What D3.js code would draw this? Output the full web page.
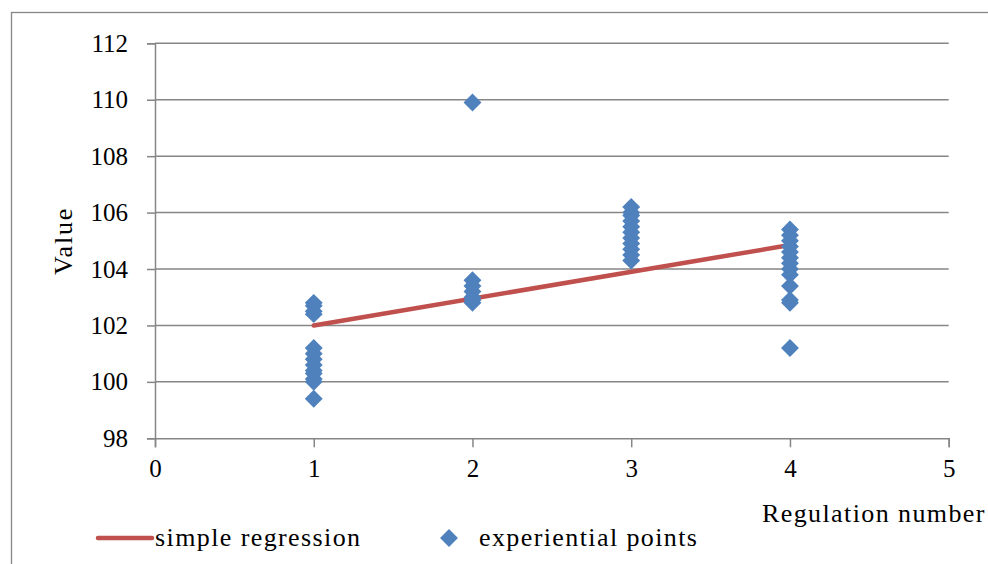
<!DOCTYPE html>
<html>
<head>
<meta charset="utf-8">
<script src="https://cdn.jsdelivr.net/npm/d3@7"></script>
<style>
  html, body { margin: 0; padding: 0; background: #fff; }
  svg { display: block; }
  text { font-family: "Liberation Serif", "Times New Roman", serif; fill: #000; }
</style>
</head>
<body>
<svg id="chart" width="988" height="564"></svg>
<script>
// Measured values per regulation number
const regulation = [1, 2, 3, 4];
const pointsReg1 = [102.8, 102.7, 102.5, 102.4, 101.2, 101.0, 100.8, 100.6, 100.4, 100.3, 100.1, 100.0, 99.4];
const pointsReg2 = [109.9, 103.6, 103.4, 103.2, 103.0, 102.9, 102.8];
const pointsReg3 = [106.2, 106.0, 105.9, 105.7, 105.5, 105.3, 105.1, 104.9, 104.7, 104.5, 104.3];
const pointsReg4 = [105.4, 105.2, 105.0, 104.8, 104.6, 104.4, 104.2, 104.0, 103.8, 103.4, 102.9, 102.8, 101.2];

// Simple regression line endpoints
const regressionX = [1, 4];
const regressionY = [102.0, 104.85];

// Axis ticks
const xTicks = [0, 1, 2, 3, 4, 5];
const yTicks = [98, 100, 102, 104, 106, 108, 110, 112];

const seriesPoints = [pointsReg1, pointsReg2, pointsReg3, pointsReg4];
const scatter = [];
seriesPoints.forEach((vals, i) => vals.forEach(v => scatter.push({ x: regulation[i], y: v })));

const svg = d3.select("#chart");
const gridColor = "#868686";
const lineColor = "#C0504D";
const pointColor = "#4F81BD";

const x = d3.scaleLinear().domain([0, 5]).range([155, 948.7]);
const y = d3.scaleLinear().domain([98, 112]).range([438.3, 43.3]);

// Outer chart frame
svg.append("rect")
  .attr("x", 11.5).attr("y", 12.5)
  .attr("width", 1000).attr("height", 600)
  .attr("fill", "none").attr("stroke", gridColor).attr("stroke-width", 1.3);

// Horizontal gridlines
svg.append("g").selectAll("line")
  .data(yTicks.filter(t => t !== 98))
  .join("line")
  .attr("x1", x(0)).attr("x2", x(5))
  .attr("y1", d => y(d)).attr("y2", d => y(d))
  .attr("stroke", gridColor).attr("stroke-width", 1.5);

// Y axis
const yAxis = svg.append("g")
  .attr("transform", `translate(${x(0)},0)`)
  .call(d3.axisLeft(y).tickValues(yTicks).tickSize(8).tickPadding(19).tickFormat(d3.format("d")));

// X axis
const xAxis = svg.append("g")
  .attr("transform", `translate(0,${y(98)})`)
  .call(d3.axisBottom(x).tickValues(xTicks).tickSize(9).tickPadding(12).tickFormat(d3.format("d")));

[yAxis, xAxis].forEach(g => {
  g.select(".domain").attr("stroke", gridColor).attr("stroke-width", 1.5);
  g.selectAll(".tick line").attr("stroke", gridColor).attr("stroke-width", 1.5);
  g.selectAll(".tick text")
    .attr("font-size", 25).attr("fill", "#000");
});

// Regression line
svg.append("path")
  .datum(regressionX.map((d, i) => [d, regressionY[i]]))
  .attr("d", d3.line().x(d => x(d[0])).y(d => y(d[1])))
  .attr("fill", "none").attr("stroke", lineColor).attr("stroke-width", 4.5)
  .attr("stroke-linecap", "round");

// Experiential points as diamonds
const diamond = d3.symbol().type(d3.symbolSquare).size(160);
svg.append("g").selectAll("path")
  .data(scatter)
  .join("path")
  .attr("d", diamond)
  .attr("transform", d => `translate(${x(d.x)},${y(d.y)}) rotate(45)`)
  .attr("fill", pointColor);

// Axis titles
svg.append("text")
  .attr("transform", `translate(72,241) rotate(-90)`)
  .attr("text-anchor", "middle")
  .attr("font-size", 26).attr("letter-spacing", 1.8)
  .text("Value");

svg.append("text")
  .attr("x", 762).attr("y", 522)
  .attr("font-size", 26).attr("letter-spacing", 1.4)
  .text("Regulation number");

// Legend
const legendY = 538;
svg.append("line")
  .attr("x1", 98).attr("x2", 152)
  .attr("y1", legendY).attr("y2", legendY)
  .attr("stroke", lineColor).attr("stroke-width", 4.5).attr("stroke-linecap", "round");
svg.append("text")
  .attr("x", 155).attr("y", 546)
  .attr("font-size", 26).attr("letter-spacing", 1.4)
  .text("simple regression");
svg.append("path")
  .attr("d", diamond)
  .attr("transform", `translate(449,${legendY}) rotate(45)`)
  .attr("fill", pointColor);
svg.append("text")
  .attr("x", 479).attr("y", 546)
  .attr("font-size", 26).attr("letter-spacing", 1.4)
  .text("experiential points");
</script>
</body>
</html>
